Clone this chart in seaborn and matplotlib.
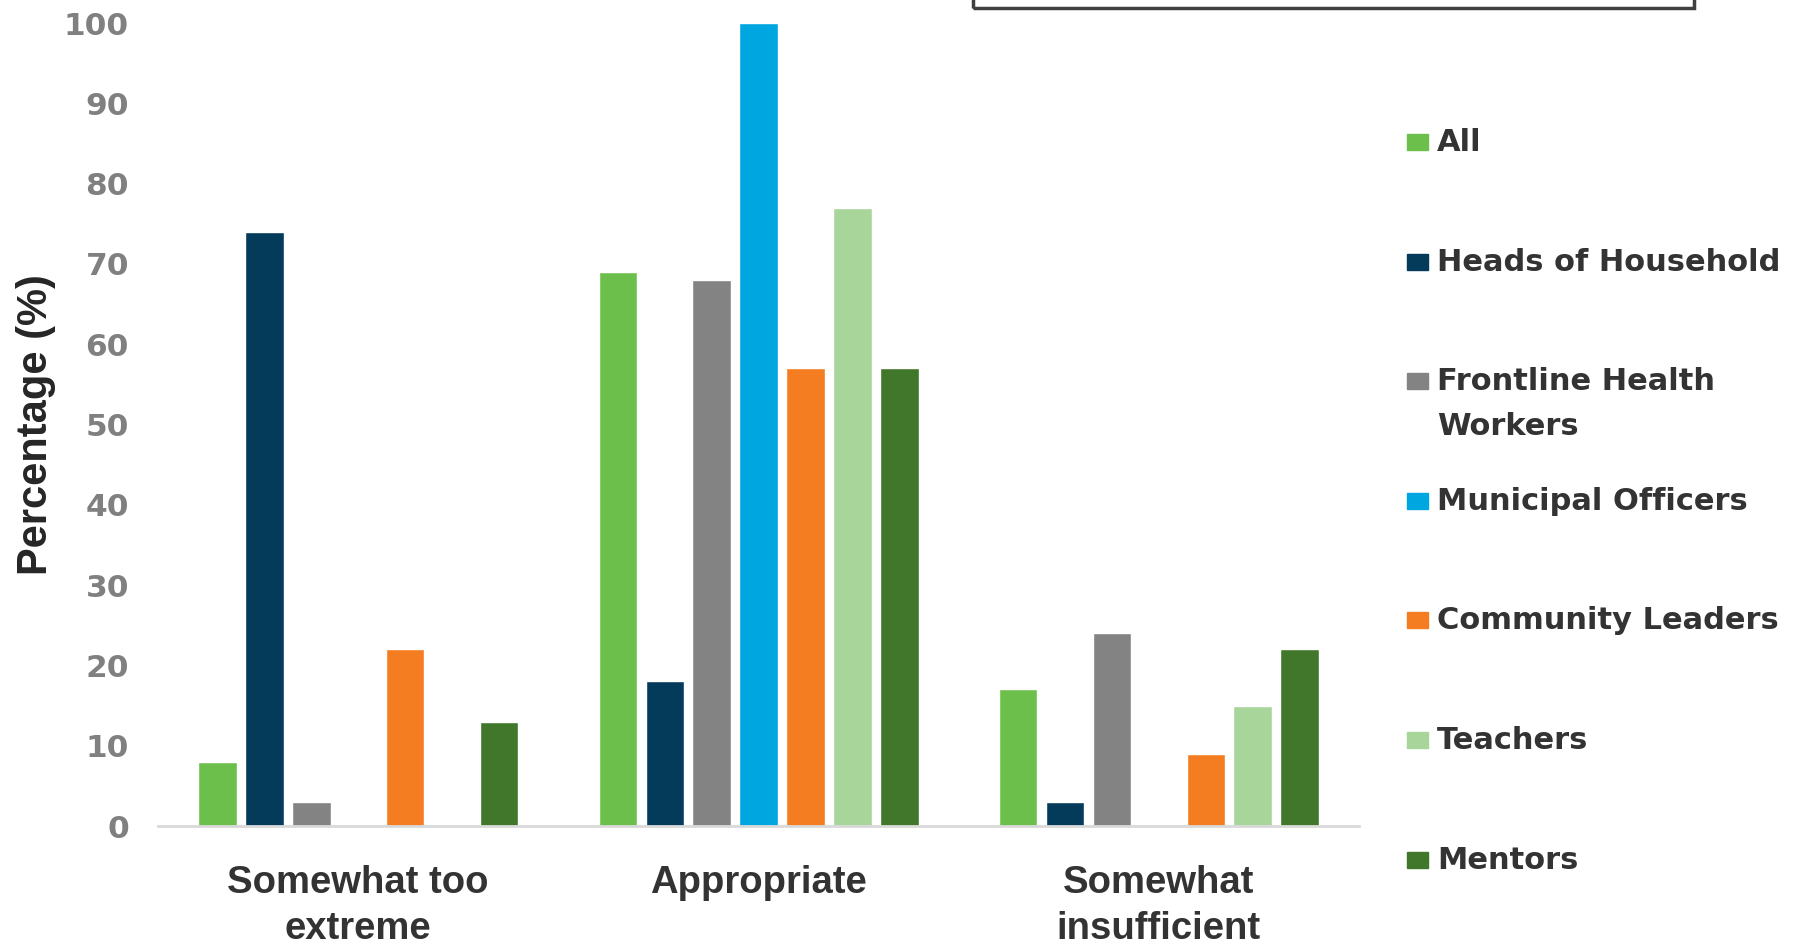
import pandas as pd
import numpy as np
import matplotlib.pyplot as plt
import seaborn as sns
from matplotlib.patches import Rectangle

categories=["Somewhat too\nextreme","Appropriate","Somewhat\ninsufficient"]
groups=["All","Heads of Household","Frontline Health\nWorkers","Municipal Officers","Community Leaders","Teachers","Mentors"]
colors=["#6dbf4b","#043b5a","#838383","#00a6e0","#f47d22","#a8d69a","#41772a"]
all_vals=[8,69,17]
heads_vals=[74,18,3]
fhw_vals=[3,68,24]
municipal_vals=[0,100,0]
community_vals=[22,57,9]
teachers_vals=[0,77,15]
mentors_vals=[13,57,22]

series=[all_vals,heads_vals,fhw_vals,municipal_vals,community_vals,teachers_vals,mentors_vals]
rows=[]
for g,vals in zip(groups,series):
    for c,v in zip(categories,vals):
        rows.append({"Category":c,"Group":g,"Value":v})
df=pd.DataFrame(rows)
palette=dict(zip(groups,colors))

sns.set_style("white")
fig=plt.figure(figsize=(17.98,9.44),dpi=100)
ax=fig.add_axes([0.0879,0.125,0.668,0.8506])
sns.barplot(data=df,x="Category",y="Value",hue="Group",hue_order=groups,order=categories,
            palette=palette,width=0.82,gap=0.18,saturation=1,legend=False,ax=ax)
ax.set_xlim(-0.5,2.5)
ax.set_ylim(0,100)
ax.set_yticks(np.arange(0,101,10))
for s in ['top','right','left']:
    ax.spines[s].set_visible(False)
ax.spines['bottom'].set_color('#d9d9d9')
ax.spines['bottom'].set_linewidth(2)
ax.tick_params(axis='both',length=0)
ax.tick_params(axis='y',pad=21)
ax.tick_params(axis='x',pad=28)
for t in ax.get_yticklabels():
    t.set_fontfamily('DejaVu Sans'); t.set_fontweight('bold'); t.set_fontsize(22.5); t.set_color('#808080')
for t in ax.get_xticklabels():
    t.set_fontfamily('Liberation Sans'); t.set_fontweight('bold'); t.set_fontsize(27.5); t.set_color('#333333')
    t.set_linespacing(1.35)
ax.set_xlabel("")
ax.set_ylabel("Percentage (%)",family='Liberation Sans',fontweight='bold',fontsize=30,color='#262626')
ax.yaxis.set_label_coords(-0.085,0.5)

# legend drawn by hand so the two-line entry keeps the row spacing
W,H=1798,944
sq_w,sq_h=21,16
row0=142
step=104.3*1.1467
for i,(g,c) in enumerate(zip(groups,colors)):
    yc=row0+i*step
    fig.patches.append(Rectangle((1407/W,1-(yc+sq_h/2)/H),sq_w/W,sq_h/H,transform=fig.transFigure,color=c,figure=fig))
    fig.text(1437/W,1-(yc-14)/H,g,va='top',ha='left',fontsize=22,fontweight='bold',family='DejaVu Sans',color='#333333',linespacing=1.7)

# box cut off at top edge
fig.patches.append(Rectangle((973/W,1-8/H),(1694-973)/W,0.1,transform=fig.transFigure,fill=False,edgecolor='#404040',lw=2.5,figure=fig))

plt.savefig("out.png",dpi=100)
plt.close('all')
